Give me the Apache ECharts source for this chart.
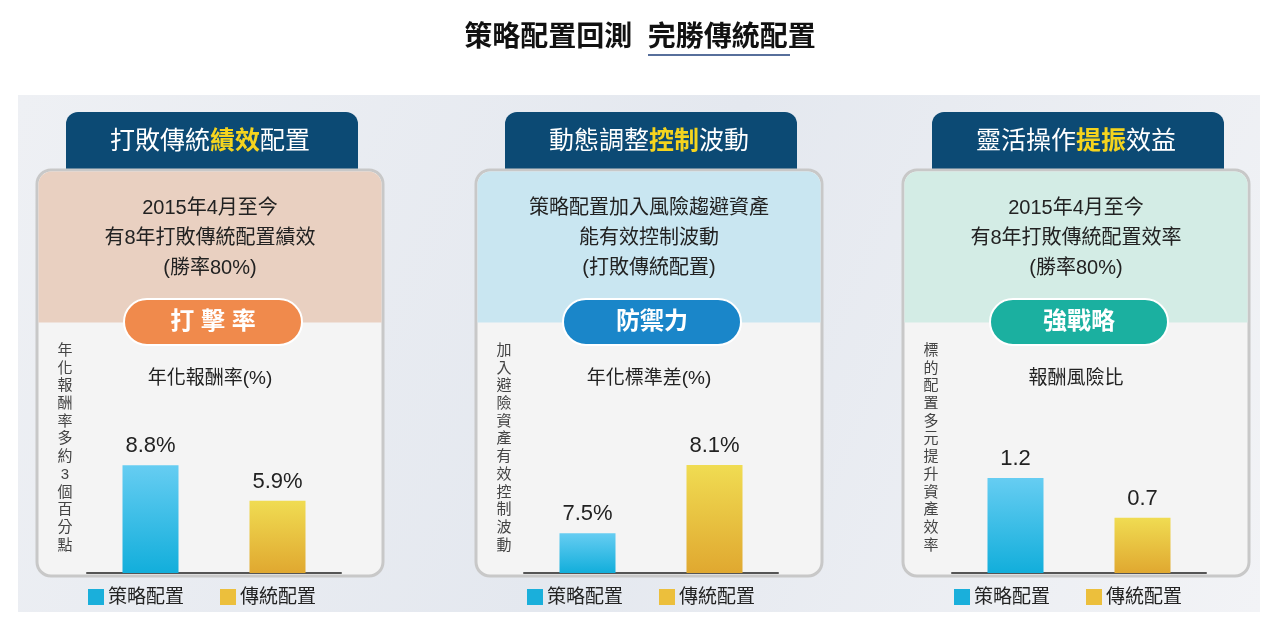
<!DOCTYPE html>
<html lang="zh-Hant">
<head>
<meta charset="UTF-8">
<script src="https://cdn.jsdelivr.net/npm/echarts@6/dist/echarts.min.js"></script>
<title>策略配置回測</title>
<style>body{margin:0;background:#fff}</style>
</head>
<body>
<div id="main" style="width:1280px;height:628px"></div>
<script type="text/javascript">
// 資料
var categories = ['策略配置', '傳統配置'];
var returnVals = [8.8, 5.9];      // 年化報酬率(%)
var stdVals = [7.5, 8.1];         // 年化標準差(%)
var sharpeVals = [1.2, 0.7];      // 報酬風險比
var returnLabels = ['8.8%', '5.9%'];
var stdLabels = ['7.5%', '8.1%'];
var sharpeLabels = ['1.2', '0.7'];

var FONT = '"Liberation Sans", "Noto Sans CJK TC", sans-serif';
var myChart = echarts.init(document.getElementById('main'));

var blueGrad = new echarts.graphic.LinearGradient(0, 0, 0, 1, [{offset: 0, color: '#66cdf2'}, {offset: 1, color: '#12aedb'}]);
var yellowGrad = new echarts.graphic.LinearGradient(0, 0, 0, 1, [{offset: 0, color: '#f0dc52'}, {offset: 1, color: '#e0a830'}]);

// 每個面板的版面
var panels = [
    {x: 37, tab: ['打敗傳統', '績效', '配置'], topColor: '#e9d0c1', lines: ['2015年4月至今', '有8年打敗傳統配置績效', '(勝率80%)'],
     pill: '打 擊 率', pillColor: '#f08a4c', side: '年化報酬率多約3個百分點', sub: '年化報酬率(%)'},
    {x: 476, tab: ['動態調整', '控制', '波動'], topColor: '#c9e6f1', lines: ['策略配置加入風險趨避資產', '能有效控制波動', '(打敗傳統配置)'],
     pill: '防禦力', pillColor: '#1a86c9', side: '加入避險資產有效控制波動', sub: '年化標準差(%)'},
    {x: 903, tab: ['靈活操作', '提振', '效益'], topColor: '#d3ece5', lines: ['2015年4月至今', '有8年打敗傳統配置效率', '(勝率80%)'],
     pill: '強戰略', pillColor: '#1bb0a0', side: '標的配置多元提升資產效率', sub: '報酬風險比'}
];

var graphics = [
    {type: 'rect', shape: {x: 18, y: 95, width: 1242, height: 517},
     style: {fill: new echarts.graphic.LinearGradient(0, 0, 1, 1, [{offset: 0, color: '#eef0f4'}, {offset: 0.5, color: '#e4e8ef'}, {offset: 1, color: '#f2f3f6'}])}, z: -10},
    {type: 'text', x: 640, y: 38, style: {text: '策略配置回測  完勝傳統配置', fontSize: 28, fontWeight: 'bold', fontFamily: FONT, fill: '#111', align: 'center', verticalAlign: 'middle'}},
    {type: 'line', shape: {x1: 648, y1: 55, x2: 790, y2: 55}, style: {stroke: '#1f3f7a', lineWidth: 1.5}}
];

panels.forEach(function (p) {
    var cx = p.x + 173;
    graphics.push(
        {type: 'rect', shape: {x: p.x + 29, y: 112, width: 292, height: 70, r: [12, 12, 0, 0]}, style: {fill: '#0c4a74'}},
        {type: 'text', x: cx, y: 142, style: {
            text: '{w|' + p.tab[0] + '}{y|' + p.tab[1] + '}{w|' + p.tab[2] + '}',
            rich: {w: {fill: '#fff', fontSize: 25, fontFamily: FONT}, y: {fill: '#f5d41e', fontSize: 25, fontWeight: 'bold', fontFamily: FONT}},
            align: 'center', verticalAlign: 'middle'}},
        {type: 'rect', shape: {x: p.x, y: 170, width: 346, height: 406, r: 14}, style: {fill: '#f4f4f4', stroke: '#c8c8c8', lineWidth: 3}},
        {type: 'rect', shape: {x: p.x + 1.5, y: 171.5, width: 343, height: 151, r: [13, 13, 0, 0]}, style: {fill: p.topColor}},
        {type: 'text', x: cx, y: 238, style: {text: p.lines.join('\n'), fontSize: 20, lineHeight: 30, fontFamily: FONT, fill: '#222', align: 'center', verticalAlign: 'middle'}},
        {type: 'rect', shape: {x: p.x + 87, y: 299, width: 178, height: 46, r: 23}, style: {fill: p.pillColor, stroke: '#fff', lineWidth: 2}},
        {type: 'text', x: p.x + 176, y: 322, style: {text: p.pill, fontSize: 24, fontWeight: 'bold', fontFamily: FONT, fill: '#fff', align: 'center', verticalAlign: 'middle'}},
        {type: 'text', x: p.x + 28, y: 342, style: {text: p.side.split('').join('\n'), fontSize: 15, lineHeight: 17.7, fontFamily: FONT, fill: '#444', align: 'center'}},
        {type: 'text', x: p.x + 173, y: 379, style: {text: p.sub, fontSize: 19, fontFamily: FONT, fill: '#222', align: 'center', verticalAlign: 'middle'}},
        {type: 'rect', shape: {x: p.x + 51, y: 589, width: 16, height: 16}, style: {fill: '#1aafdb'}},
        {type: 'text', x: p.x + 71, y: 598, style: {text: categories[0], fontSize: 19, fontFamily: FONT, fill: '#222', verticalAlign: 'middle'}},
        {type: 'rect', shape: {x: p.x + 183, y: 589, width: 16, height: 16}, style: {fill: '#ecbf3c'}},
        {type: 'text', x: p.x + 203, y: 598, style: {text: categories[1], fontSize: 19, fontFamily: FONT, fill: '#222', verticalAlign: 'middle'}}
    );
});

var gridLefts = [87, 524, 952];
var yRanges = [[0, 18.2], [7.15, 9.11], [0, 2.82]];
var dataSets = [returnVals, stdVals, sharpeVals];
var labelSets = [returnLabels, stdLabels, sharpeLabels];

myChart.setOption({
    animation: false,
    graphic: graphics,
    grid: gridLefts.map(function (l) { return {left: l, width: 254, top: 350, height: 223}; }),
    xAxis: gridLefts.map(function (l, i) {
        return {type: 'category', gridIndex: i, data: categories,
            axisLine: {lineStyle: {color: '#555', width: 2}}, axisTick: {show: false}, axisLabel: {show: false}};
    }),
    yAxis: yRanges.map(function (r, i) {
        return {type: 'value', gridIndex: i, min: r[0], max: r[1], show: false, splitLine: {show: false}};
    }),
    series: dataSets.map(function (d, i) {
        return {type: 'bar', xAxisIndex: i, yAxisIndex: i, barWidth: 56,
            data: d.map(function (v, j) { return {value: v, itemStyle: {color: j === 0 ? blueGrad : yellowGrad}}; }),
            label: {show: true, position: 'top', distance: 8, fontSize: 22, fontFamily: FONT, color: '#222',
                formatter: function (p) { return labelSets[i][p.dataIndex]; }}};
    })
});
</script>
</body>
</html>
